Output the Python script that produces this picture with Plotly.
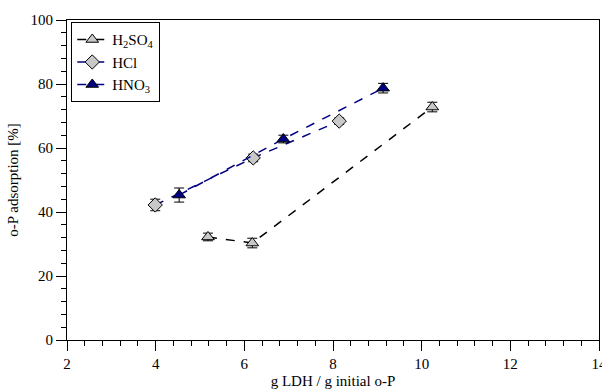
import plotly.graph_objects as go

# Data
h2so4_x = [5.18, 6.18, 10.24]
h2so4_y = [32.2, 30.3, 72.8]
h2so4_err = [1.2, 1.5, 1.5]

hcl_x = [3.99, 6.2, 8.14]
hcl_y = [42.2, 56.9, 68.4]
hcl_err = [1.8, 1.2, 1.0]

hno3_x = [4.53, 6.88, 9.13]
hno3_y = [45.3, 62.8, 78.7]
hno3_err = [2.2, 1.2, 1.5]

names = ["H<sub>2</sub>SO<sub>4</sub>", "HCl", "HNO<sub>3</sub>"]
x_ticks = [2, 4, 6, 8, 10, 12, 14]
y_ticks = [0, 20, 40, 60, 80, 100]

FONT = "Liberation Serif"

fig = go.Figure()

def add(x, y, err, name, symbol, fill, linecolor):
    fig.add_trace(go.Scatter(
        x=x, y=y, name=name, mode="lines+markers",
        line=dict(color=linecolor, width=1.5, dash="dash"),
        marker=dict(symbol=symbol, size=11, color=fill,
                    line=dict(color="black", width=1)),
        error_y=dict(type="data", array=err, visible=True,
                     color="black", thickness=1, width=5),
    ))

add(h2so4_x, h2so4_y, h2so4_err, names[0], "triangle-up", "#c8c8c8", "black")
add(hcl_x, hcl_y, hcl_err, names[1], "diamond", "#c8c8c8", "#000080")
add(hno3_x, hno3_y, hno3_err, names[2], "triangle-up", "#000080", "#000080")

fig.update_layout(
    width=602, height=392,
    margin=dict(l=67, r=3, t=20, b=52),
    paper_bgcolor="white", plot_bgcolor="white",
    font=dict(family=FONT, size=15, color="black"),
    showlegend=True,
    legend=dict(x=0.008, y=0.993, xanchor="left", yanchor="top",
                bordercolor="black", borderwidth=1, bgcolor="white",
                font=dict(family=FONT, size=15), tracegroupgap=0,
                itemwidth=30),
)

fig.update_xaxes(
    range=[2, 14], tickvals=x_ticks, automargin=False,
    showgrid=False, zeroline=False,
    showline=True, linecolor="black", linewidth=1, mirror=True,
    ticks="outside", ticklen=10, tickcolor="black",
    ticklabeloverflow="allow",
    tickfont=dict(family=FONT, size=15),
    minor=dict(dtick=0.4, ticks="outside", ticklen=5, tickcolor="black"),
    title=dict(text="g LDH / g initial o-P", font=dict(family=FONT, size=15), standoff=4),
)
fig.update_yaxes(
    range=[0, 100], tickvals=y_ticks, automargin=False,
    showgrid=False, zeroline=False,
    showline=True, linecolor="black", linewidth=1, mirror=True,
    ticks="outside", ticklen=10, tickcolor="black",
    ticklabeloverflow="allow",
    tickfont=dict(family=FONT, size=15),
    minor=dict(dtick=4, ticks="outside", ticklen=5, tickcolor="black"),
    title=dict(text="o-P adsorption [%]", font=dict(family=FONT, size=15), standoff=8),
)

fig.write_html("out.html")
